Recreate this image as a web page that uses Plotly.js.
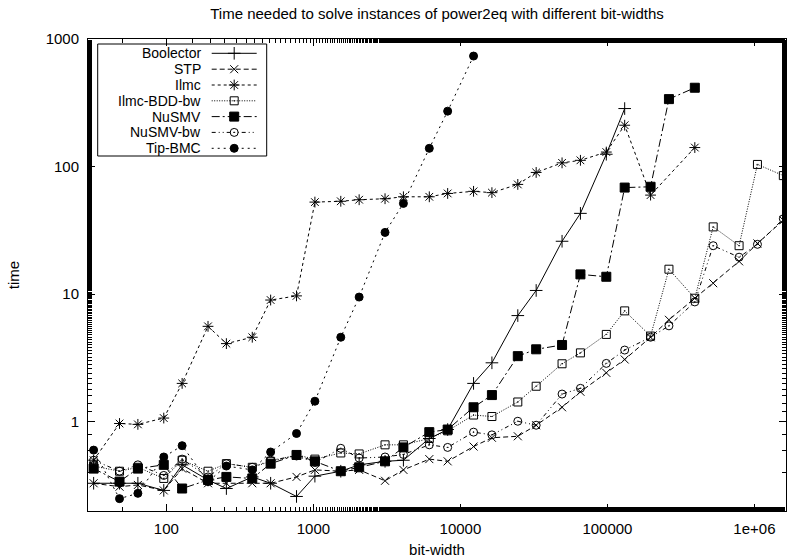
<!DOCTYPE html>
<html>
<head>
<meta charset="utf-8">
<script src="https://cdn.plot.ly/plotly-3.0.1.min.js"></script>
<style>html,body{margin:0;padding:0;background:#fff;}#chart{width:788px;height:558px;}</style>
</head>
<body>
<div id="chart"></div>
<script>
var bitWidths = [32,48,64,96,128,192,256,384,512,768,1024,1536,2048,3072,4096,6144,8192,12288,16384,24576,32768,49152,65536,98304,131072,196608,262144,393216,524288,786432,1048576,1572864];

var boolector = [0.33,0.33,0.33,0.29,0.46,0.35,0.30,0.37,0.33,0.26,0.375,0.41,0.46,0.49,0.50,0.74,0.87,2.0,2.9,6.8,10.7,26,43,125,285,null,null,null,null,null,null,null];
var stp = [0.33,0.31,0.32,0.29,0.43,0.33,0.33,0.33,0.33,0.37,0.42,0.41,0.42,0.345,0.42,0.51,0.49,0.64,0.75,0.77,0.94,1.3,1.72,2.42,3.08,4.6,6.3,9.3,12.2,18.1,25,38];
var ilmc = [0.5,0.97,0.955,1.07,2.0,5.6,4.1,4.6,9.0,9.7,52.7,53.5,55,56,58,58,61.6,64,62.5,72.5,90,107,112,130,211,59.8,null,141,null,null,null,null];
var ilmcBddBw = [0.45,0.41,0.44,0.36,0.50,0.41,0.47,0.44,0.49,0.55,0.51,0.57,0.56,0.66,0.66,0.74,0.85,1.13,1.1,1.43,1.9,2.85,3.47,4.84,7.4,4.7,15.7,9.3,33.7,24,104,85];
var nusmv = [0.43,0.34,0.43,0.46,0.30,0.35,0.37,0.36,0.47,0.55,0.49,0.41,0.44,0.49,0.63,0.83,0.87,1.3,1.62,3.27,3.7,4.0,14.3,13.7,68.5,69.5,338,415,null,null,null,null];
var nusmvBw = [0.5,0.41,0.46,0.38,0.51,0.37,0.47,0.44,0.50,0.54,0.48,0.62,0.52,0.53,0.555,0.66,0.63,0.83,0.79,1.01,0.94,1.65,1.83,2.87,3.65,4.6,5.65,8.7,24,19.5,24.6,39];
var tipBmc = [0.6,0.25,0.275,0.53,0.65,0.34,0.45,0.42,0.58,0.81,1.45,4.6,9.5,30.5,51.5,139,272,735,null,null,null,null,null,null,null,null,null,null,null,null,null,null];

var seriesNames = ["Boolector","STP","Ilmc","Ilmc-BDD-bw","NuSMV","NuSMV-bw","Tip-BMC"];
var seriesData = [boolector, stp, ilmc, ilmcBddBw, nusmv, nusmvBw, tipBmc];
var xTickVals = [100,1000,10000,100000,1000000];
var xTickText = ["100","1000","10000","100000","1e+06"];
var yTickVals = [1,10,100,1000];
var yTickText = ["1","10","100","1000"];

var styles = [
  {dash:"solid", symbol:"cross-thin-open", size:9},
  {dash:"5px,3px", symbol:"x-thin-open", size:8},
  {dash:"3px,3px", symbol:"asterisk-open", size:9},
  {dash:"1px,1.5px", symbol:"square-open-dot", size:8},
  {dash:"8px,3px,2px,3px", symbol:"square", size:9},
  {dash:"4px,3px,1px,3px,1px,3px", symbol:"circle-open-dot", size:8},
  {dash:"2px,4px", symbol:"circle", size:8}
];

var font = "Liberation Sans, Arial, sans-serif";
var FS = 15;
var traces = [];
seriesData.forEach(function(vals, i){
  traces.push({
    x: bitWidths, y: vals, name: seriesNames[i], type:"scatter", mode:"lines+markers",
    connectgaps: true, showlegend:false,
    line:{color:"#000", width:1, dash:styles[i].dash},
    marker:{symbol:styles[i].symbol, size:styles[i].size, color:"#000", line:{color:"#000", width:1}}
  });
});

// manual gnuplot-style legend (text left, sample on right) on an overlay axis
var L = 88, T = 39, W = 698, H = 472;
function fx(px){ return (px - L)/W; }
function fy(py){ return (T + H - py)/H; }
var rowY = [53.3,69.2,85.0,100.8,116.6,132.4,148.3];
var annotations = [];
seriesNames.forEach(function(n, i){
  traces.push({
    x:[fx(211.7), fx(256.7)], y:[fy(rowY[i]), fy(rowY[i])], xaxis:"x2", yaxis:"y2",
    type:"scatter", mode:"lines", showlegend:false, hoverinfo:"skip",
    line:{color:"#000", width:1, dash:styles[i].dash}
  });
  traces.push({
    x:[fx(234.2)], y:[fy(rowY[i])], xaxis:"x2", yaxis:"y2",
    type:"scatter", mode:"markers", showlegend:false, hoverinfo:"skip",
    marker:{symbol:styles[i].symbol, size:styles[i].size, color:"#000", line:{color:"#000", width:1}}
  });
  annotations.push({xref:"paper", yref:"paper", x:fx(202), y:fy(rowY[i]), xanchor:"right", yanchor:"middle",
    text:n, showarrow:false, borderpad:0, font:{family:font, size:14, color:"#000"}});
});

var layout = {
  width:788, height:558,
  margin:{l:L, r:788-L-W, t:T, b:558-T-H},
  paper_bgcolor:"#fff", plot_bgcolor:"#fff",
  font:{family:font, size:FS, color:"#000"},
  title:{text:"Time needed to solve instances of power2eq with different bit-widths",
    font:{family:font, size:FS, color:"#000"}, x:0.5, xref:"paper", y:1-14/558, yanchor:"middle"},
  showlegend:false,
  xaxis:{type:"log", range:[Math.log10(29.3), Math.log10(1.64e6)], tickvals:xTickVals, ticktext:xTickText,
    ticks:"inside", ticklen:7, tickwidth:1, tickcolor:"#000", mirror:"allticks", showline:true, linecolor:"#000", linewidth:1,
    showgrid:false, zeroline:false, tickfont:{family:font, size:FS}, ticklabelstandoff:4,
    minor:{ticks:"inside", ticklen:4, tickcolor:"#000", tickwidth:1, showgrid:false},
    title:{text:"bit-width", font:{family:font, size:FS}, standoff:10}},
  yaxis:{type:"log", range:[Math.log10(0.2), 3], tickvals:yTickVals, ticktext:yTickText,
    ticks:"inside", ticklen:7, tickwidth:1, tickcolor:"#000", mirror:"allticks", showline:true, linecolor:"#000", linewidth:1,
    showgrid:false, zeroline:false, tickfont:{family:font, size:FS}, ticklabelstandoff:5,
    minor:{ticks:"inside", ticklen:4, tickcolor:"#000", tickwidth:1, showgrid:false},
    title:{text:"time", font:{family:font, size:FS}, standoff:22}},
  xaxis2:{overlaying:"x", range:[0,1], visible:false, anchor:"y2", fixedrange:true},
  yaxis2:{overlaying:"y", range:[0,1], visible:false, anchor:"x2", fixedrange:true},
  shapes:[{type:"rect", xref:"paper", yref:"paper", x0:fx(97.7), x1:fx(266.7), y0:fy(156), y1:fy(44),
    line:{color:"#000", width:1}, fillcolor:"rgba(0,0,0,0)"}],
  annotations:annotations
};

Plotly.newPlot("chart", traces, layout, {staticPlot:true, displayModeBar:false});
</script>
</body>
</html>
